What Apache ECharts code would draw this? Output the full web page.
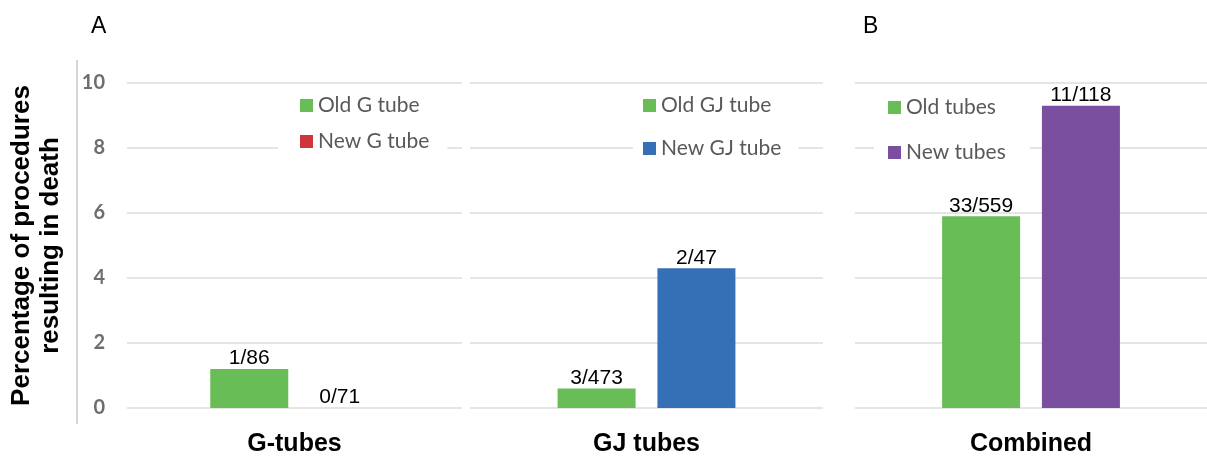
<!DOCTYPE html>
<html>
<head>
<meta charset="utf-8">
<script src="https://cdn.jsdelivr.net/npm/echarts@6/dist/echarts.min.js"></script>
<style>
  html, body { margin: 0; padding: 0; background: #fff; }
  #chart { width: 1207px; height: 458px; }
</style>
</head>
<body>
<div id="chart"></div>
<script>
// data
const categories = ['G-tubes', 'GJ tubes', 'Combined'];
const oldNames = ['Old G tube', 'Old GJ tube', 'Old tubes'];
const newNames = ['New G tube', 'New GJ tube', 'New tubes'];
const oldValues = [1.2, 0.6, 5.9];
const newValues = [0, 4.3, 9.3];
const oldLabels = ['1/86', '3/473', '33/559'];
const newLabels = ['0/71', '2/47', '11/118'];
const newColors = ['#d0343c', '#3570b7', '#7a4f9f'];
const oldColor = '#68bd56';

// panel layout
const panels = [
  { left: 127, width: 335, barGap: '16%', legend: { left: 278, top: 91, gap: 15, pad: [4, 18, 4, 22] } },
  { left: 470, width: 353, barGap: '28%', legend: { left: 633, top: 91, gap: 22, pad: [4, 17, 4, 10] } },
  { left: 855, width: 352, barGap: '28%', legend: { left: 874, top: 93, gap: 24, pad: [4, 24, 4, 14] } },
];

const gridLineColor = '#dcdcdc';

const grid = panels.map((p) => ({ left: p.left, width: p.width, top: 83, bottom: 50 }));

const xAxis = categories.map((c, i) => ({
  type: 'category',
  gridIndex: i,
  data: [c],
  axisLine: { show: false },
  axisTick: { show: false },
  axisLabel: {
    margin: 24,
    color: '#000',
    fontFamily: 'Liberation Sans',
    fontWeight: 'bold',
    fontSize: 25,
  },
}));

const yAxis = categories.map((c, i) => ({
  type: 'value',
  gridIndex: i,
  min: 0,
  max: 10,
  interval: 2,
  axisLine: { show: false },
  axisTick: { show: false },
  splitLine: { lineStyle: { color: gridLineColor, width: 1.5 } },
  axisLabel: {
    show: i === 0,
    margin: 22,
    color: '#6e6e6e',
    fontFamily: 'Lato',
    fontWeight: 'bold',
    fontSize: 20,
  },
  name: i === 0 ? 'Percentage of procedures\nresulting in death' : '',
  nameLocation: 'middle',
  nameRotate: 90,
  nameGap: 62,
  nameTextStyle: {
    color: '#000',
    fontFamily: 'Liberation Sans',
    fontWeight: 'bold',
    fontSize: 26,
    lineHeight: 29,
  },
}));

const barLabel = (text) => ({
  show: true,
  position: 'top',
  distance: 0,
  formatter: text,
  color: '#000',
  fontFamily: 'Liberation Sans',
  fontSize: 21,
});

const series = [];
categories.forEach((c, i) => {
  series.push({
    type: 'bar',
    name: oldNames[i],
    xAxisIndex: i,
    yAxisIndex: i,
    data: [oldValues[i]],
    barWidth: 78,
    barGap: panels[i].barGap,
    itemStyle: { color: oldColor },
    label: barLabel(oldLabels[i]),
  });
  series.push({
    type: 'bar',
    name: newNames[i],
    xAxisIndex: i,
    yAxisIndex: i,
    data: [newValues[i]],
    barWidth: 78,
    barGap: panels[i].barGap,
    itemStyle: { color: newColors[i] },
    label: barLabel(newLabels[i]),
  });
});

const legend = panels.map((p, i) => ({
  orient: 'vertical',
  left: p.legend.left,
  top: p.legend.top,
  itemGap: p.legend.gap,
  padding: p.legend.pad,
  backgroundColor: '#fff',
  icon: 'rect',
  itemWidth: 13,
  itemHeight: 13,
  selectedMode: false,
  textStyle: { color: '#595959', fontFamily: 'Lato', fontSize: 21 },
  data: [oldNames[i], newNames[i]],
}));

const letterStyle = { color: '#000', fontFamily: 'Liberation Sans', fontWeight: 'normal', fontSize: 23 };

const option = {
  backgroundColor: '#fff',
  animation: false,
  title: [
    { text: 'A', left: 86, top: 10, textStyle: letterStyle },
    { text: 'B', left: 858, top: 10, textStyle: letterStyle },
  ],
  grid,
  xAxis,
  yAxis,
  legend,
  series,
  graphic: [{
    type: 'line',
    shape: { x1: 77, y1: 60, x2: 77, y2: 424 },
    style: { stroke: '#c8c8c8', lineWidth: 1.5 },
  }],
};

const myChart = echarts.init(document.getElementById('chart'));
myChart.setOption(option);
</script>
</body>
</html>
